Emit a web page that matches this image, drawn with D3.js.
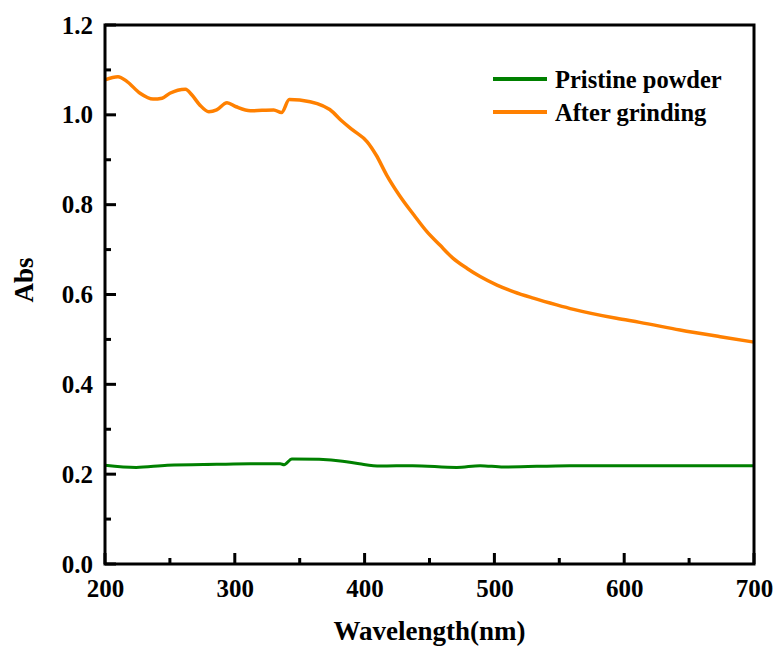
<!DOCTYPE html>
<html>
<head>
<meta charset="utf-8">
<script src="https://cdn.jsdelivr.net/npm/d3@7"></script>
<style>
  body { margin: 0; background: #fff; }
  svg text { font-family: "Liberation Serif", "Times New Roman", serif; font-weight: bold; fill: #000; }
</style>
</head>
<body>
<div id="chart"></div>
<script>
// After grinding (orange)
var grindWl = [200, 210, 217, 227, 237, 244, 250, 262, 267, 273, 280, 286, 294, 301, 312, 330, 336, 342, 358, 376,
  381, 391, 402, 409, 417, 427, 438, 448, 458, 468, 479, 489, 502, 515, 530, 548, 561, 594, 612, 643, 674, 700];
var grindAbs = [1.078, 1.085, 1.074, 1.048, 1.035, 1.037, 1.048, 1.057, 1.044, 1.022, 1.007, 1.011, 1.027, 1.018, 1.009, 1.011, 1.005, 1.034, 1.029, 1.005,
  0.990, 0.966, 0.940, 0.910, 0.866, 0.820, 0.777, 0.740, 0.710, 0.681, 0.658, 0.640, 0.621, 0.606, 0.592, 0.577, 0.567, 0.547, 0.538, 0.521, 0.506, 0.494];

// Pristine powder (green)
var pristineWl = [200, 224, 248, 286, 312, 335, 338, 344, 365, 383, 396, 412, 437, 471, 489, 507, 558, 610, 700];
var pristineAbs = [0.220, 0.215, 0.220, 0.222, 0.223, 0.223, 0.221, 0.234, 0.233, 0.229, 0.223, 0.218, 0.219, 0.215, 0.219, 0.216, 0.219, 0.219, 0.219];

var xTicks = [200, 300, 400, 500, 600, 700];
var xMinor = [250, 350, 450, 550, 650];
var yTicks = [0.0, 0.2, 0.4, 0.6, 0.8, 1.0, 1.2];
var yMinor = [0.1, 0.3, 0.5, 0.7, 0.9, 1.1];
var seriesNames = ["Pristine powder", "After grinding"];
var colors = ["#008000", "#ff8000"];

var w = 778, h = 648;
var margin = {top: 25, right: 24, bottom: 84, left: 105};
var width = w - margin.left - margin.right,
    height = h - margin.top - margin.bottom;

var svg = d3.select("#chart").append("svg")
  .attr("width", w)
  .attr("height", h);

var g = svg.append("g")
  .attr("transform", "translate(" + margin.left + "," + margin.top + ")");

var x = d3.scaleLinear().domain([200, 700]).range([0, width]);
var y = d3.scaleLinear().domain([0, 1.2]).range([height, 0]);

var line = d3.line()
  .x(function(d) { return x(d[0]); })
  .y(function(d) { return y(d[1]); })
  .curve(d3.curveMonotoneX);

var pristine = pristineWl.map(function(d, i) { return [d, pristineAbs[i]]; });
var grind = grindWl.map(function(d, i) { return [d, grindAbs[i]]; });

g.append("path")
  .datum(pristine)
  .attr("fill", "none")
  .attr("stroke", colors[0])
  .attr("stroke-width", 3)
  .attr("d", line);

g.append("path")
  .datum(grind)
  .attr("fill", "none")
  .attr("stroke", colors[1])
  .attr("stroke-width", 3.5)
  .attr("d", line);

// tick labels from d3 axes (tick lines drawn separately)
var xAxis = g.append("g")
  .attr("transform", "translate(0," + height + ")")
  .call(d3.axisBottom(x).tickValues(xTicks).tickSize(0).tickPadding(15).tickFormat(d3.format("d")));
var yAxis = g.append("g")
  .call(d3.axisLeft(y).tickValues(yTicks).tickSize(0).tickPadding(12).tickFormat(d3.format(".1f")));

[xAxis, yAxis].forEach(function(a) {
  a.attr("font-family", null).attr("font-size", null);
  a.select(".domain").remove();
  a.selectAll(".tick line").remove();
  a.selectAll("text").style("font-size", "25px");
});

// inward tick marks
var ticks = g.append("g");
ticks.selectAll(".xt")
  .data(xTicks.map(function(d) { return [d, 11]; }).concat(xMinor.map(function(d) { return [d, 6]; })))
  .enter().append("rect")
  .attr("x", function(d) { return x(d[0]) - 1.5; })
  .attr("y", function(d) { return height - d[1]; })
  .attr("width", 3)
  .attr("height", function(d) { return d[1]; })
  .attr("fill", "#000");
ticks.selectAll(".yt")
  .data(yTicks.map(function(d) { return [d, 11]; }).concat(yMinor.map(function(d) { return [d, 6]; })))
  .enter().append("rect")
  .attr("x", 0)
  .attr("y", function(d) { return y(d[0]) - 1.5; })
  .attr("width", function(d) { return d[1]; })
  .attr("height", 3)
  .attr("fill", "#000");

// frame
g.append("rect")
  .attr("width", width)
  .attr("height", height)
  .attr("fill", "none")
  .attr("stroke", "#000")
  .attr("stroke-width", 3);

// axis titles
svg.append("text")
  .attr("x", margin.left + width / 2)
  .attr("y", 640)
  .attr("text-anchor", "middle")
  .style("font-size", "27px")
  .text("Wavelength(nm)");

svg.append("text")
  .attr("transform", "translate(33,280) rotate(-90)")
  .attr("text-anchor", "middle")
  .style("font-size", "27px")
  .text("Abs");

// legend
var legend = g.selectAll(".legend")
  .data(seriesNames)
  .enter().append("g")
  .attr("class", "legend")
  .attr("transform", function(d, i) { return "translate(388," + (54 + i * 33) + ")"; });

legend.append("line")
  .attr("x1", 0).attr("x2", 54)
  .attr("stroke", function(d, i) { return colors[i]; })
  .attr("stroke-width", 4);

legend.append("text")
  .attr("x", 62)
  .attr("dy", "0.35em")
  .style("font-size", "24.5px")
  .text(function(d) { return d; });
</script>
</body>
</html>
